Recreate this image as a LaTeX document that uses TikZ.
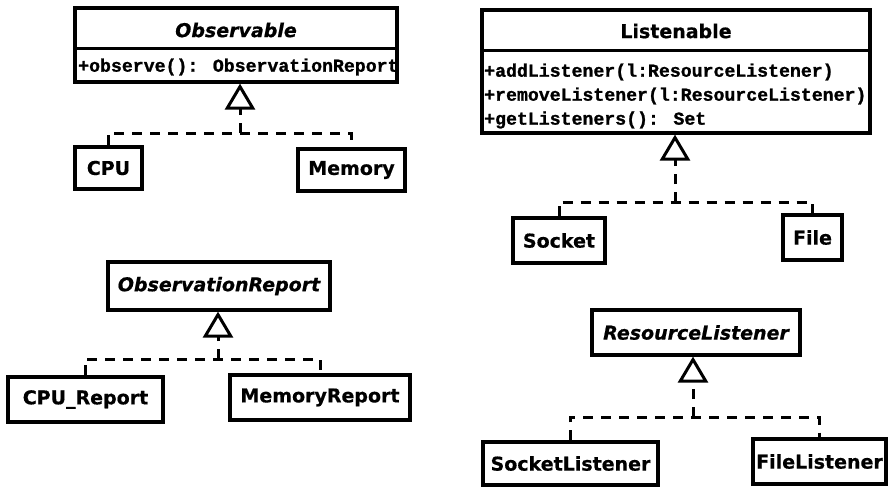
\documentclass[tikz,border=0pt]{standalone}
\usepackage{fontspec}
\setsansfont[BoldFeatures={FakeBold=0.6},BoldItalicFeatures={FakeBold=0.6}]{DejaVu Sans}
\newfontfamily\monof[BoldFeatures={FakeBold=1.2}]{Liberation Mono}
\usetikzlibrary{arrows.meta}
\begin{document}
\begin{tikzpicture}[x=1pt,y=-1pt,
  box/.style={draw, line width=3.2pt, fill=white, inner sep=0pt},
  ttl/.style={font=\fontsize{19}{22}\selectfont\sffamily\bfseries, inner sep=0pt},
  ittl/.style={font=\fontsize{19}{22}\selectfont\sffamily\bfseries\itshape, inner sep=0pt},
  meth/.style={font=\fontsize{18.2}{22}\selectfont\monof\bfseries, anchor=west, inner sep=0pt},
  dsh/.style={line width=3pt, dash pattern=on 10pt off 8pt},
  real/.style={dsh, -{Triangle[open, length=26pt, width=30pt]}}]
\useasboundingbox[fill=white] (0,0) rectangle (888,487);

% ---------- Observable ----------
\node[box, minimum width=322pt, minimum height=74pt] (obs) at (236,45) {};
\draw[line width=3.2pt] ([yshift=-42pt]obs.north west) -- ([yshift=-42pt]obs.north east);
\node[ittl] (obsT) at (236,30) {Observable};
\node[meth] (obsM) at (78,67) {+observe(): ObservationReport};

\node[box, ttl, minimum width=67pt, minimum height=42pt] (cpu) at (108.5,168) {CPU};
\node[box, ttl, minimum width=107pt, minimum height=42pt] (mem) at (351.5,170) {Memory};
\coordinate (obsbus) at (240,133);
\draw[dsh] (cpu.north) -- (cpu.north |- obsbus) -- (mem.north |- obsbus) -- (mem.north);
\draw[real] (obsbus) -- (obsbus |- obs.south);

% ---------- Listenable ----------
\node[box, minimum width=388pt, minimum height=123pt] (lis) at (676,71.5) {};
\draw[line width=3.2pt] ([yshift=-42pt]lis.north west) -- ([yshift=-42pt]lis.north east);
\node[ttl] (lisT) at (676,31) {Listenable};
\node[meth] (lisM1) at (484,72) {+addListener(l:ResourceListener)};
\node[meth] (lisM2) at (484,96) {+removeListener(l:ResourceListener)};
\node[meth] (lisM3) at (484,120) {+getListeners(): Set};

\node[box, ttl, minimum width=92pt, minimum height=45pt] (sock) at (559,240.5) {Socket};
\node[box, ttl, minimum width=59pt, minimum height=45pt] (file) at (812.5,237.5) {File};
\coordinate (lisbus) at (675,202);
\draw[dsh] (sock.north) -- (sock.north |- lisbus) -- (file.north |- lisbus) -- (file.north);
\draw[real] (lisbus) -- (lisbus |- lis.south);

% ---------- ObservationReport ----------
\node[box, ittl, minimum width=222pt, minimum height=48pt] (orep) at (219,286) {ObservationReport};
\node[box, ttl, minimum width=155pt, minimum height=45pt] (cpur) at (85.5,399.5) {CPU\_Report};
\node[box, ttl, minimum width=180pt, minimum height=45pt] (memr) at (320,397.5) {MemoryReport};
\coordinate (orbus) at (218,359);
\draw[dsh] (cpur.north) -- (cpur.north |- orbus) -- (memr.north |- orbus) -- (memr.north);
\draw[real] (orbus) -- (orbus |- orep.south);

% ---------- ResourceListener ----------
\node[box, ittl, minimum width=208pt, minimum height=45pt] (rl) at (696,332.5) {ResourceListener};
\node[box, ttl, minimum width=175pt, minimum height=43pt] (sl) at (570.5,463.5) {SocketListener};
\node[box, ttl, minimum width=133pt, minimum height=45pt] (fl) at (819.5,461.5) {FileListener};
\coordinate (rlbus) at (693,417);
\draw[dsh] (sl.north) -- (sl.north |- rlbus) -- (fl.north |- rlbus) -- (fl.north);
\draw[real] (rlbus) -- (rlbus |- rl.south);
\end{tikzpicture}
\end{document}
